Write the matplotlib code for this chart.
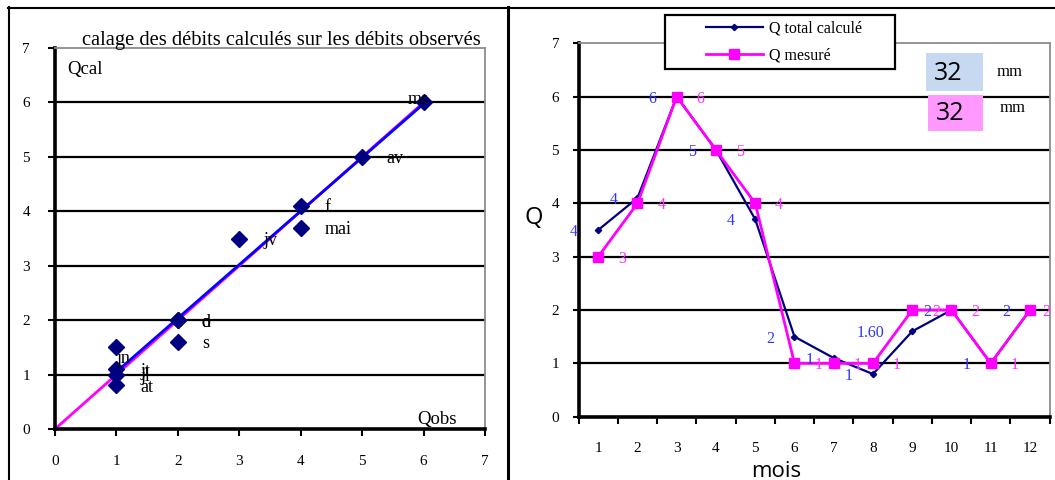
#! /usr/bin/env python3
# -*- coding: utf-8 -*-
import numpy as np
import matplotlib
matplotlib.use('Agg')
import matplotlib.pyplot as plt
from matplotlib.lines import Line2D
from matplotlib.patches import Rectangle

plt.rcParams['font.family'] = ['Liberation Serif', 'DejaVu Serif']

# data
months = list(range(1, 13))
month_ticks = [str(m) for m in months]
q_calc = [3.5, 4.1, 6, 5, 3.7, 1.5, 1.1, 0.8, 1.6, 2, 1, 2]
q_mes = [3, 4, 6, 5, 4, 1, 1, 1, 2, 2, 1, 2]
calc_labels = ['4', '4', '6', '5', '4', '2', '1', '1', '1.60', '2', '1', '2']
mes_labels = ['3', '4', '6', '5', '4', '1', '1', '1', '2', '2', '1', '2']
month_abbr = ['jv', 'f', 'ms', 'av', 'mai', 'jn', 'jt', 'at', 's', 'o', 'jl', 'd']
total_calc = '32'
total_mes = '32'
axis_ticks = list(range(0, 8))

NAVY = '#000080'
MAG = '#ff00ff'
W, H = 1055., 480.


def fx(px):
    return px / W


def fy(py):
    return 1 - py / H


def style_spines(ax):
    for side in ['left', 'bottom']:
        ax.spines[side].set_color('black')
        ax.spines[side].set_linewidth(2.6)
    for side in ['top', 'right']:
        ax.spines[side].set_color('#8c8c8c')
        ax.spines[side].set_linewidth(1.3)
    for v in axis_ticks[1:-1]:
        ax.axhline(v, color='black', lw=1.6, zorder=1)


def plot_calage(fig):
    ax = fig.add_axes([fx(55), fy(429), fx(430), 381 / H])
    style_spines(ax)
    ax.set_xlim(0, 7)
    ax.set_ylim(0, 7)
    ax.set_xticks(axis_ticks)
    ax.set_yticks(axis_ticks)
    ax.tick_params(axis='both', direction='out', length=5, width=1.5, labelsize=11)
    ax.tick_params(axis='y', pad=13)
    ax.tick_params(axis='x', pad=14)

    # y = x and fitted line
    ax.plot([0, max(q_mes)], [0, max(q_mes)], color=MAG, lw=2, zorder=2)
    slope, inter = np.polyfit(q_mes, q_calc, 1)
    xs = np.array([min(q_mes), max(q_mes)])
    ax.plot(xs, slope * xs + inter, color='#0000ff', lw=2, zorder=2)
    ax.plot(q_mes, q_calc, 'D', color=NAVY, ms=8.5, zorder=3, clip_on=False)

    offsets = {'jn': (0, -11), 'ms': (-16, 3)}
    for xo, yc, lbl in zip(q_mes, q_calc, month_abbr):
        off = offsets.get(lbl, (24, -2))
        ax.annotate(lbl, (xo, yc), xytext=off, textcoords='offset pixels',
                    ha='left', va='center', fontsize=13, zorder=4)

    ax.text(0.2, 6.6, 'Qcal', fontsize=13.5, va='center', ha='left')
    ax.text(5.9, 0.18, 'Qobs', fontsize=13.5, va='center', ha='left')
    fig.text(fx(281), fy(40), 'calage des débits calculés sur les débits observés',
             fontsize=14.8, ha='center', va='center')


def plot_debits(fig):
    ax = fig.add_axes([fx(578.6), fy(416.7), fx(471), 373.4 / H])
    style_spines(ax)
    ax.set_xlim(0.5, 12.5)
    ax.set_ylim(0, 7)
    ax.set_yticks(axis_ticks)
    ax.set_xticks(np.arange(0.5, 13, 1))
    ax.set_xticklabels([])
    ax.set_xticks(months, minor=True)
    ax.set_xticklabels(month_ticks, minor=True)
    ax.tick_params(axis='x', which='major', direction='out', length=5, width=1.5)
    ax.tick_params(axis='x', which='minor', length=0, labelsize=11, pad=18)
    ax.tick_params(axis='y', direction='out', length=4, width=1.5, labelsize=11, pad=10)

    l1, = ax.plot(months, q_calc, color=NAVY, lw=1.6, marker='D', ms=3.2, zorder=3,
                  label='Q total calculé')
    l2, = ax.plot(months, q_mes, color=MAG, lw=2, marker='s', ms=6.5, zorder=4,
                  label='Q mesuré')

    calc_off = {8: -28}
    mes_off = {11: 12}
    for i, (m, v, lbl) in enumerate(zip(months, q_calc, calc_labels)):
        ax.annotate(lbl, (m, v), xytext=(calc_off.get(i, -20), -2), textcoords='offset pixels',
                    ha='right', va='center', color='#3333ff', fontsize=11.5, zorder=5)
    for i, (m, v, lbl) in enumerate(zip(months, q_mes, mes_labels)):
        ax.annotate(lbl, (m, v), xytext=(mes_off.get(i, 20), -2), textcoords='offset pixels',
                    ha='left', va='center', color='#ff33ff', fontsize=11.5, zorder=5,
                    annotation_clip=False)

    ax.set_ylabel('Q', family='Open Sans', fontsize=17, rotation=0, va='center', ha='center')
    ax.yaxis.set_label_coords(-0.0945, 0.532)
    ax.set_xlabel('mois', family='Open Sans', fontsize=16, va='baseline')
    ax.xaxis.set_label_coords(0.42, -0.1615)

    # legend box
    fig.add_artist(Rectangle((fx(665), fy(69)), fx(230), 54 / H, transform=fig.transFigure,
                             facecolor='white', edgecolor='black', lw=1.6, zorder=1))
    fig.legend([l1, l2], [l1.get_label(), l2.get_label()], loc='center',
               bbox_to_anchor=(fx(784), fy(42)), bbox_transform=fig.transFigure,
               frameon=False, handlelength=3.6, handletextpad=0.4, labelspacing=0.65,
               borderpad=0, fontsize=11.5)

    # totals
    fig.add_artist(Rectangle((fx(926), fy(90.7)), fx(56.7), 37.4 / H,
                             transform=fig.transFigure, facecolor='#c6d9f1', lw=0, zorder=1))
    fig.add_artist(Rectangle((fx(928.3), fy(130.7)), fx(54.4), 35.7 / H,
                             transform=fig.transFigure, facecolor='#ff99ff', lw=0, zorder=1))
    fig.text(fx(948.5), fy(73), total_calc, family='Open Sans', fontsize=18,
             ha='center', va='center')
    fig.text(fx(950), fy(113), total_mes, family='Open Sans', fontsize=18,
             ha='center', va='center')
    fig.text(fx(996.7), fy(72.5), 'mm', fontsize=12, ha='left', va='center')
    fig.text(fx(1000), fy(108), 'mm', fontsize=12, ha='left', va='center')


def draw_frames(fig):
    fig.add_artist(Line2D([fx(8.5), fx(8.5)], [fy(7), 0], color='black', lw=1.5))
    fig.add_artist(Line2D([fx(8), 1], [fy(7.5), fy(7.5)], color='black', lw=1.5))
    fig.add_artist(Line2D([fx(507.5), fx(507.5)], [fy(7), 0], color='black', lw=2.2))


def main():
    fig = plt.figure(figsize=(W / 100, H / 100), dpi=100)
    plot_calage(fig)
    plot_debits(fig)
    draw_frames(fig)
    fig.savefig('out.png', dpi=100, facecolor='white')


if __name__ == '__main__':
    main()
